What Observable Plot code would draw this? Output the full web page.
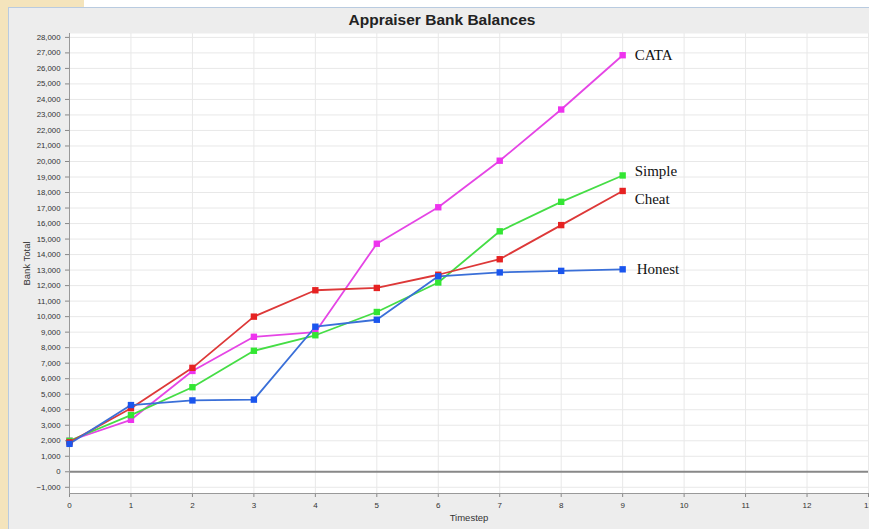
<!DOCTYPE html>
<html>
<head>
<meta charset="utf-8">
<script src="https://cdn.jsdelivr.net/npm/d3@7"></script>
<script src="https://cdn.jsdelivr.net/npm/@observablehq/plot@0.6"></script>
<style>
  html, body { margin: 0; padding: 0; width: 869px; height: 529px; overflow: hidden; background: #ffffff; font-family: "Liberation Sans", Arial, sans-serif; }
  #beigeL { position: absolute; left: 0; top: 0; width: 9px; height: 529px; background: #f4e4bc; }
  #beigeT { position: absolute; left: 0; top: 0; width: 84px; height: 8px; background: #f4e4bc; }
  #panel { position: absolute; left: 8px; top: 7px; width: 880px; height: 530px; background: #ededed; border: 1.5px solid #b9cbe0; box-sizing: border-box; }
  #title { position: absolute; left: 8px; top: 11px; width: 868px; text-align: center; font-weight: bold; font-size: 15.5px; color: #222; }
  #chart { position: absolute; left: 0; top: 28px; }
</style>
</head>
<body>
<div id="beigeL"></div>
<div id="beigeT"></div>
<div id="panel"></div>
<div id="title">Appraiser Bank Balances</div>
<div id="chart"></div>
<script>
const timesteps = [0, 1, 2, 3, 4, 5, 6, 7, 8, 9];
const seriesNames = ["CATA", "Simple", "Cheat", "Honest"];
const cata   = [2000, 3350, 6500, 8700, 9000, 14700, 17050, 20050, 23350, 26850];
const simple = [2000, 3650, 5450, 7800, 8800, 10300, 12200, 15500, 17400, 19100];
const cheat  = [1900, 4100, 6700, 10000, 11700, 11850, 12700, 13700, 15900, 18100];
const honest = [1800, 4300, 4600, 4650, 9350, 9800, 12600, 12850, 12950, 13050];
const yTicks = d3.range(-1000, 28001, 1000);
const xTicks = d3.range(0, 14, 1);

const seriesValues = [cata, simple, cheat, honest];
const colors = {CATA: "#e545e5", Simple: "#45dd45", Cheat: "#dd3838", Honest: "#3a6fd8"};
const markerColors = {CATA: "#ee33ee", Simple: "#33e633", Cheat: "#e62222", Honest: "#1a55ee"};
const labelDy = {CATA: 0, Simple: -4, Cheat: 8, Honest: 0};
const labelDx = {CATA: 12, Simple: 12, Cheat: 12, Honest: 14};

const data = seriesNames.flatMap((name, i) =>
  timesteps.map((t, j) => ({series: name, t, v: seriesValues[i][j]}))
);
const last = seriesNames.map((name, i) => ({series: name, t: timesteps[timesteps.length - 1], v: seriesValues[i][timesteps.length - 1]}));

const plot = Plot.plot({
  width: 869,
  height: 501,
  marginLeft: 69,
  marginRight: 1,
  marginTop: 5,
  marginBottom: 36,
  style: {background: "transparent", fontFamily: "'Liberation Sans', Arial, sans-serif", overflow: "visible"},
  x: {domain: [0, 13], ticks: xTicks, tickSize: 4, tickPadding: 4, label: "Timestep", labelAnchor: "center", labelArrow: "none", labelOffset: 27},
  y: {domain: [-1400, 28250], ticks: yTicks, tickSize: 4, tickPadding: 3, tickFormat: d3.format(","), label: "Bank Total", labelAnchor: "center", labelArrow: "none", labelOffset: 46},
  marks: [
    Plot.frame({fill: "white", stroke: "none"}),
    Plot.gridX(xTicks, {stroke: "#e8e8e8", strokeOpacity: 1}),
    Plot.gridY(yTicks, {stroke: "#e8e8e8", strokeOpacity: 1}),
    Plot.ruleY([0], {stroke: "#888888", strokeWidth: 2}),
    Plot.axisX({ticks: xTicks, tickSize: 4, fontSize: 8, stroke: "#888", fill: "#333", label: "Timestep", labelAnchor: "center", labelArrow: "none", labelOffset: 27}),
    Plot.axisY({ticks: yTicks, tickSize: 4, fontSize: 7.8, stroke: "#888", fill: "#333", tickFormat: d3.format(","), label: "Bank Total", labelAnchor: "center", labelArrow: "none", labelOffset: 46}),
    Plot.ruleX([0], {stroke: "#999", strokeWidth: 1}),
    Plot.ruleY([-1400], {stroke: "#999", strokeWidth: 1}),
    Plot.line(data, {x: "t", y: "v", z: "series", stroke: d => colors[d.series], strokeWidth: 1.8}),
    Plot.dot(data, {x: "t", y: "v", symbol: "square", r: 3.6, fill: d => markerColors[d.series], stroke: "none"}),
    ...seriesNames.map(name => Plot.text(last.filter(d => d.series === name), {
      x: "t", y: "v", text: "series", textAnchor: "start",
      dx: labelDx[name], dy: labelDy[name],
      fontFamily: "'Liberation Serif', 'Times New Roman', serif", fontSize: 15, fill: "#111"
    }))
  ]
});
plot.querySelectorAll("[aria-label='x-axis label'] text, [aria-label='y-axis label'] text").forEach(t => { t.setAttribute("font-size", "9.5"); });
document.getElementById("chart").appendChild(plot);
</script>
</body>
</html>
